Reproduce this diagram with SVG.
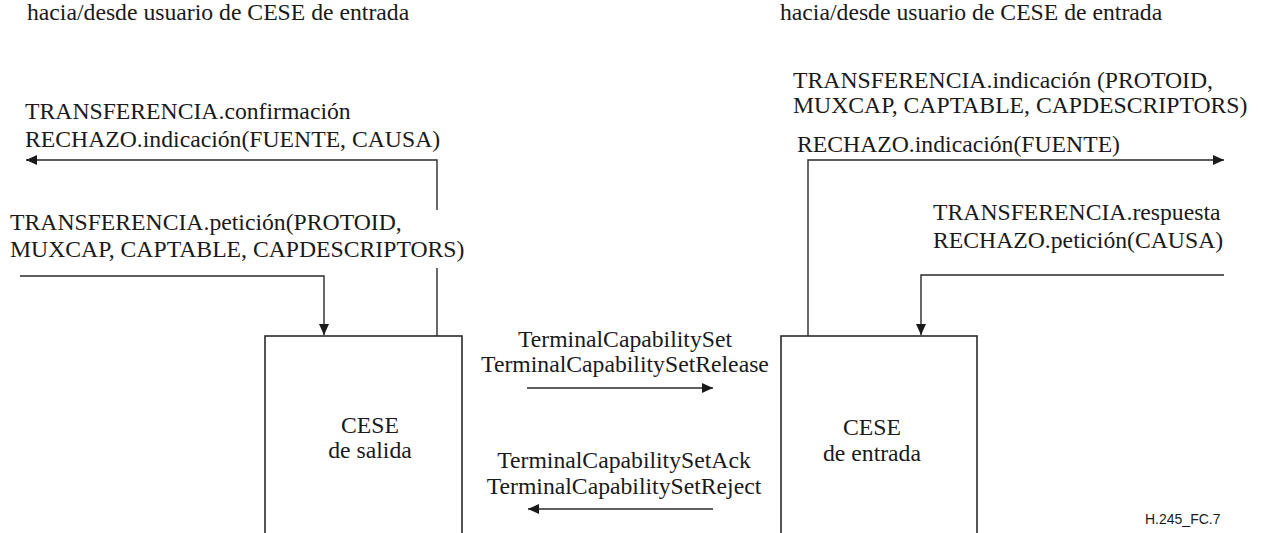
<svg xmlns="http://www.w3.org/2000/svg" width="1262" height="533" viewBox="0 0 1262 533">
<style>
text{font-family:"Liberation Serif","Times New Roman",serif;font-size:23.7px;fill:#1a1a1a}
.c{text-anchor:middle}
.ln{fill:none;stroke:#2a2a2a;stroke-width:1.4}
.box{fill:#fff;stroke:#2a2a2a;stroke-width:1.6}
.lbl{font-family:"Liberation Sans",Arial,sans-serif;font-size:14px}
</style>
<defs>
<marker id="ah" markerUnits="userSpaceOnUse" markerWidth="12" markerHeight="10" refX="11" refY="5" orient="auto">
<path d="M0,0 L11,5 L0,10 Z" fill="#1a1a1a"/>
</marker>
</defs>
<g id="headers">
<text x="27" y="20">hacia/desde usuario de CESE de entrada</text>
<text x="780" y="20">hacia/desde usuario de CESE de entrada</text>
</g>
<g id="node-salida">
<rect class="box" x="265" y="336" width="197" height="220"/>
<text class="c" x="370" y="433">CESE</text>
<text class="c" x="370" y="458">de salida</text>
</g>
<g id="node-entrada">
<rect class="box" x="781" y="336" width="196" height="220"/>
<text class="c" x="872" y="435">CESE</text>
<text class="c" x="872" y="461">de entrada</text>
</g>
<g id="connectors">
<path class="ln" d="M437,210 L437,160 L26,160" marker-end="url(#ah)"/>
<path class="ln" d="M437,336 L437,268"/>
<path class="ln" d="M20,276 L324,276 L324,335" marker-end="url(#ah)"/>
<path class="ln" d="M808,336 L808,160 L1224,160" marker-end="url(#ah)"/>
<path class="ln" d="M1224,275 L921,275 L921,335" marker-end="url(#ah)"/>
<path class="ln" d="M527,388 L713,388" marker-end="url(#ah)"/>
<path class="ln" d="M713,509 L528,509" marker-end="url(#ah)"/>
</g>
<g id="labels">
<text x="25" y="119">TRANSFERENCIA.confirmación</text>
<text x="25" y="147">RECHAZO.indicación(FUENTE, CAUSA)</text>
<text x="10" y="230">TRANSFERENCIA.petición(PROTOID,</text>
<text x="10" y="257">MUXCAP, CAPTABLE, CAPDESCRIPTORS)</text>
<text x="793" y="88">TRANSFERENCIA.indicación (PROTOID,</text>
<text x="793" y="113">MUXCAP, CAPTABLE, CAPDESCRIPTORS)</text>
<text x="797" y="152">RECHAZO.indicación(FUENTE)</text>
<text x="933" y="220">TRANSFERENCIA.respuesta</text>
<text x="933" y="248">RECHAZO.petición(CAUSA)</text>
<text class="c" x="625" y="347">TerminalCapabilitySet</text>
<text class="c" x="625" y="372">TerminalCapabilitySetRelease</text>
<text class="c" x="624" y="468">TerminalCapabilitySetAck</text>
<text class="c" x="624" y="494">TerminalCapabilitySetReject</text>
<text class="lbl" x="1145" y="524">H.245_FC.7</text>
</g>
</svg>
